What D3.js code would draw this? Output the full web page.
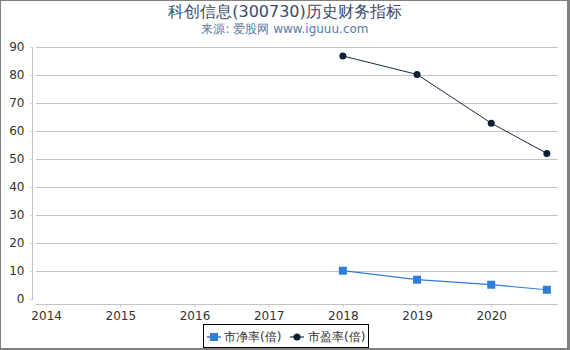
<!DOCTYPE html>
<html>
<head>
<meta charset="utf-8">
<script src="https://cdn.jsdelivr.net/npm/d3@7"></script>
<style>
  body { margin: 0; background: #fff; }
  svg { display: block; font-family: "DejaVu Sans", sans-serif; }
</style>
</head>
<body>
<div id="root"></div>
<script>
const years = [2014, 2015, 2016, 2017, 2018, 2019, 2020];
const dates = [2018, 2019, 2020, 2020.75];
const pb = [10.1, 6.9, 5.1, 3.3];   // 市净率(倍)
const pe = [86.8, 80.2, 62.8, 52.0]; // 市盈率(倍)
const yTicks = [0, 10, 20, 30, 40, 50, 60, 70, 80, 90];

const W = 570, H = 350;
const svg = d3.select("#root").append("svg")
  .attr("width", W).attr("height", H);

// frame
svg.append("rect").attr("x", 0).attr("y", 0).attr("width", W).attr("height", H).attr("fill", "#808080");
svg.append("rect").attr("x", 1).attr("y", 1).attr("width", W - 4).attr("height", H - 3).attr("fill", "#fff");

svg.append("text").attr("x", 285).attr("y", 17).attr("text-anchor", "middle")
  .attr("font-size", 16).attr("fill", "#3b4b69").text("科创信息(300730)历史财务指标");
svg.append("text").attr("x", 285).attr("y", 33).attr("text-anchor", "middle")
  .attr("font-size", 12).attr("fill", "#5b7aa3").text("来源: 爱股网 www.iguuu.com");

const x = d3.scaleLinear().domain([2013.85, 2020.9]).range([35, 558]);
const y = d3.scaleLinear().domain([0, 90]).range([299, 47]);

// grid
svg.append("g").selectAll("line").data(yTicks.slice(1)).join("line")
  .attr("x1", 36).attr("x2", 558)
  .attr("y1", d => y(d) + 0.5).attr("y2", d => y(d) + 0.5)
  .attr("stroke", "#c4c4c4").attr("stroke-width", 1);

// y axis
const ya = svg.append("g").attr("transform", "translate(32.5,0)")
  .call(d3.axisLeft(y).tickValues(yTicks).tickSize(2).tickPadding(6));
ya.select(".domain").attr("d", "M0,47V300").attr("stroke", "#c4c4c4");
ya.selectAll(".tick line").attr("stroke", "#c4c4c4");
ya.selectAll(".tick text").attr("font-size", 12).attr("fill", "#333")
  .attr("font-family", "DejaVu Sans, sans-serif");

// x axis
const xa = svg.append("g").attr("transform", "translate(0,304.5)")
  .call(d3.axisBottom(x).tickValues(years).tickFormat(d3.format("d")).tickSize(3).tickPadding(4));
xa.select(".domain").attr("d", "M36,0H558").attr("stroke", "#c4c4c4");
xa.selectAll(".tick line").attr("stroke", "#c4c4c4");
xa.selectAll(".tick text").attr("font-size", 12).attr("fill", "#333")
  .attr("font-family", "DejaVu Sans, sans-serif");

const line = d3.line().x((d, i) => x(dates[i])).y(d => y(d));

svg.append("path").datum(pb).attr("d", line).attr("fill", "none")
  .attr("stroke", "#2f7fd8").attr("stroke-width", 1.2);
svg.append("g").selectAll("rect").data(pb).join("rect")
  .attr("x", (d, i) => x(dates[i]) - 4).attr("y", d => y(d) - 4)
  .attr("width", 8).attr("height", 8).attr("fill", "#2f7fd8");

svg.append("path").datum(pe).attr("d", line).attr("fill", "none")
  .attr("stroke", "#1b2a44").attr("stroke-width", 1);
svg.append("g").selectAll("circle").data(pe).join("circle")
  .attr("cx", (d, i) => x(dates[i])).attr("cy", d => y(d))
  .attr("r", 3.5).attr("fill", "#0f1f38");

// legend
const lg = svg.append("g");
lg.append("rect").attr("x", 203.5).attr("y", 324.5).attr("width", 165).attr("height", 23)
  .attr("fill", "#fff").attr("stroke", "#000");
lg.append("line").attr("x1", 207).attr("x2", 221).attr("y1", 337).attr("y2", 337)
  .attr("stroke", "#2f7fd8").attr("stroke-width", 1.5);
lg.append("rect").attr("x", 210).attr("y", 333).attr("width", 8).attr("height", 8).attr("fill", "#2f7fd8");
lg.append("text").attr("x", 224).attr("y", 341).attr("font-size", 12).attr("fill", "#333").text("市净率(倍)");
lg.append("line").attr("x1", 290).attr("x2", 304).attr("y1", 337).attr("y2", 337)
  .attr("stroke", "#1b2a44").attr("stroke-width", 1.2);
lg.append("circle").attr("cx", 297).attr("cy", 337).attr("r", 3.5).attr("fill", "#0f1f38");
lg.append("text").attr("x", 308).attr("y", 341).attr("font-size", 12).attr("fill", "#333").text("市盈率(倍)");
</script>
</body>
</html>
